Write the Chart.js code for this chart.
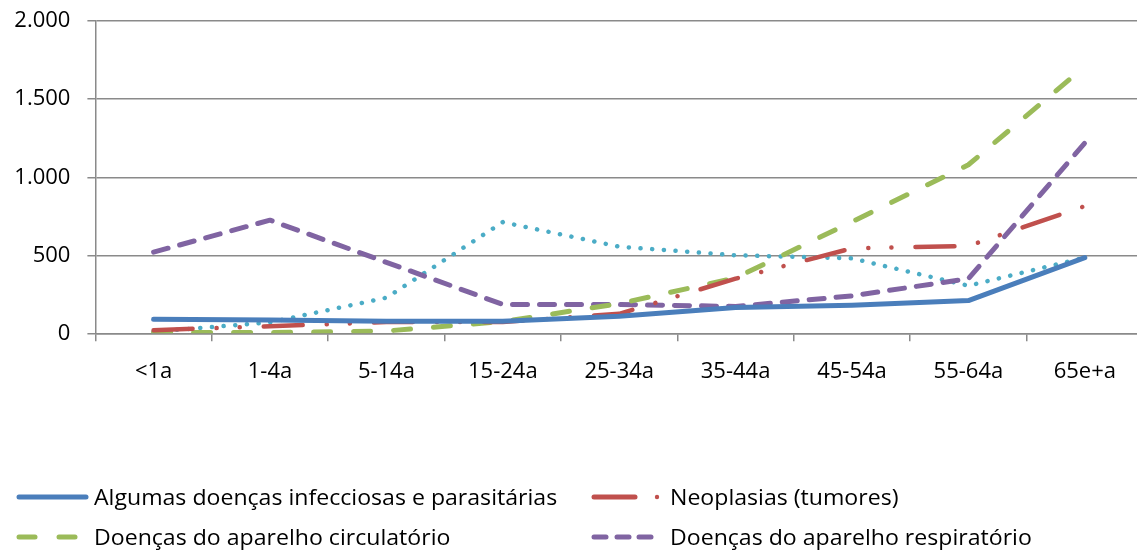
<!DOCTYPE html>
<html>
<head>
<meta charset="utf-8">
<script src="https://cdn.jsdelivr.net/npm/chart.js@4"></script>
<style>
  html, body { margin: 0; padding: 0; background: #fff; overflow: hidden; width: 1137px; height: 551px; }
  #wrap { position: absolute; left: 0; top: -9px; width: 1144px; height: 560px; }
  #legend { position: absolute; left: 0; top: 0; width: 1137px; height: 551px; pointer-events: none;
            font-family: "Open Sans", Lato, sans-serif; font-size: 21px; color: #000; }
</style>
</head>
<body>
<div id="wrap"><canvas id="c" width="1144" height="560"></canvas></div>
<div id="legend"></div>
<script>
// ---- data ----
const categories = ['<1a', '1-4a', '5-14a', '15-24a', '25-34a', '35-44a', '45-54a', '55-64a', '65e+a'];
const seriesNames = [
  'Algumas doenças infecciosas e parasitárias',
  'Neoplasias (tumores)',
  'Doenças do aparelho circulatório',
  'Doenças do aparelho respiratório',
  'Causas externas de morbidade e mortalidade'
];
const infecciosas   = [90, 85, 78, 78, 110, 165, 180, 210, 485];
const neoplasias    = [20, 45, 72, 72, 125, 350, 545, 560, 815];
const circulatorio  = [5, 5, 15, 75, 190, 355, 715, 1080, 1710];
const respiratorio  = [520, 725, 455, 185, 185, 172, 240, 350, 1220];
const externas      = [10, 70, 228, 712, 555, 500, 480, 305, 485];
const yTicks = [0, 500, 1000, 1500, 2000];

const colors = ['#4A7EBB', '#C0504D', '#9BBB59', '#8064A2', '#4BACC6'];
const dashes = [[], [39, 24, 0.1, 23, 0.1, 24], [17, 23], [15, 12], [0.1, 11.6]];
const widths = [5, 4.5, 5, 5, 4.5];
const values = [infecciosas, neoplasias, circulatorio, respiratorio, externas];

function fmt(v) { return String(v).replace(/\B(?=(\d{3})+(?!\d))/g, '.'); }

const FONT = '"Open Sans", Lato, sans-serif';
const GRID = '#8a8a8a';
const datasets = values.map((vals, i) => ({
  label: seriesNames[i],
  data: vals,
  borderColor: colors[i],
  backgroundColor: colors[i],
  borderWidth: widths[i],
  borderDash: dashes[i],
  borderCapStyle: 'round',
  borderJoinStyle: 'round',
  pointRadius: 0,
  pointHoverRadius: 0,
  tension: 0,
  fill: false,
  order: i === 4 ? 5 : i + 1
}));

const SHIFT = 9, ZERO = 333.3, CH = 560;

new Chart(document.getElementById('c'), {
  type: 'line',
  data: { labels: categories, datasets },
  options: {
    responsive: false,
    animation: false,
    layout: { padding: { top: 0, right: 1, left: 0, bottom: 0 } },
    plugins: { legend: { display: false }, tooltip: { enabled: false } },
    scales: {
      x: {
        offset: true,
        grid: { offset: true, drawOnChartArea: false, drawTicks: true, tickLength: 8, color: GRID, lineWidth: 1.5 },
        border: { display: true, color: GRID, width: 1.5 },
        ticks: { font: { family: FONT, size: 22 }, color: '#000', padding: 17, maxRotation: 0, autoSkip: false },
        afterFit: s => { s.height = CH - (ZERO + SHIFT); }
      },
      y: {
        min: 0, max: 2000,
        afterBuildTicks: s => { s.ticks = yTicks.map(v => ({ value: v })); },
        grid: { color: GRID, lineWidth: 1.5, tickLength: 8, drawTicks: true },
        border: { display: true, color: GRID, width: 1.5 },
        ticks: { font: { family: FONT, size: 22 }, color: '#000', padding: 17, callback: v => fmt(v) },
        afterFit: s => { s.width = 95.4; }
      }
    }
  }
});

// ---- legend (HTML, first four series as in the reference) ----
const legendPos = [
  { x: 17, y: 497, tx: 94 },
  { x: 592, y: 497, tx: 670 },
  { x: 17, y: 537, tx: 94 },
  { x: 592, y: 537, tx: 670 }
];
const lg = document.getElementById('legend');
legendPos.forEach((p, i) => {
  const svgNS = 'http://www.w3.org/2000/svg';
  const svg = document.createElementNS(svgNS, 'svg');
  svg.setAttribute('width', 80); svg.setAttribute('height', 12);
  svg.style.position = 'absolute'; svg.style.left = (p.x - 4) + 'px'; svg.style.top = (p.y - 6) + 'px';
  const mk = (x1, x2) => {
    const l = document.createElementNS(svgNS, 'line');
    l.setAttribute('x1', x1 + 4); l.setAttribute('x2', x2 + 4);
    l.setAttribute('y1', 6); l.setAttribute('y2', 6);
    l.setAttribute('stroke', colors[i]); l.setAttribute('stroke-width', 5);
    l.setAttribute('stroke-linecap', 'round');
    svg.appendChild(l);
  };
  if (i === 0) mk(2, 69);
  else if (i === 1) { mk(2, 43); const c = document.createElementNS(svgNS, 'circle'); c.setAttribute('cx', 65 + 4); c.setAttribute('cy', 6); c.setAttribute('r', 2.2); c.setAttribute('fill', colors[i]); svg.appendChild(c); }
  else if (i === 2) { mk(2, 18); mk(42, 58); }
  else { mk(2, 14); mk(25, 37); mk(47, 59); }
  lg.appendChild(svg);
  const s = document.createElement('span');
  s.textContent = seriesNames[i];
  s.style.position = 'absolute'; s.style.left = p.tx + 'px'; s.style.top = p.y + 'px';
  s.style.lineHeight = '1'; s.style.whiteSpace = 'nowrap';
  s.style.transformOrigin = '0 50%';
  s.style.transform = 'translateY(-50%) scaleX(1.1)';
  lg.appendChild(s);
});
</script>
</body>
</html>
